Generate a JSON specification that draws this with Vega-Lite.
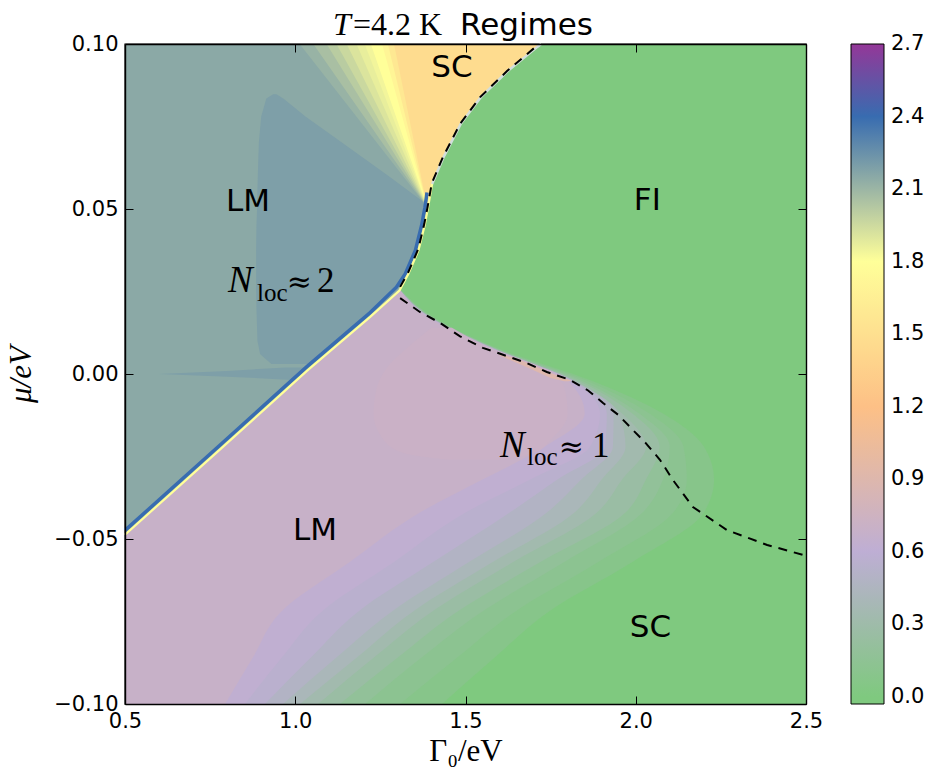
{
  "$schema": "https://vega.github.io/schema/vega-lite/v6.json",
  "autosize": {"type": "none"},
  "padding": {"left": 125, "top": 44, "right": 119, "bottom": 67},
  "width": 681,
  "height": 660,
  "config": {
    "font": "DejaVu Sans",
    "view": {"stroke": "black", "strokeWidth": 1.4},
    "axis": {
      "grid": false, "domain": true, "domainColor": "black", "domainWidth": 1.4,
      "tickColor": "black", "tickSize": -8, "tickWidth": 1, "zindex": 1,
      "labelFont": "DejaVu Sans", "labelFontSize": 21, "labelColor": "black",
      "labelFlush": false, "labelOverlap": false,
      "titleColor": "black", "titleFontWeight": "normal"
    }
  },
  "datasets": {
    "lower": [
      {"k":"a00","v":0,"m":-0.1,"xl":0.5,"xr":2.5},{"k":"a00","v":0,"m":0.1,"xl":0.5,"xr":2.5},
      {"k":"a01","v":0.08,"m":-0.1,"xl":0.5,"xr":1.431},{"k":"a01","v":0.08,"m":-0.086,"xl":0.5,"xr":1.585},{"k":"a01","v":0.08,"m":-0.0724,"xl":0.5,"xr":1.739},{"k":"a01","v":0.08,"m":-0.057,"xl":0.5,"xr":1.99},{"k":"a01","v":0.08,"m":-0.042,"xl":0.5,"xr":2.2},{"k":"a01","v":0.08,"m":-0.032,"xl":0.5,"xr":2.23},{"k":"a01","v":0.08,"m":-0.022,"xl":0.5,"xr":2.2},{"k":"a01","v":0.08,"m":-0.012,"xl":0.5,"xr":2.08},{"k":"a01","v":0.08,"m":-0.002,"xl":0.5,"xr":1.87},{"k":"a01","v":0.08,"m":0.008,"xl":0.5,"xr":1.59},{"k":"a01","v":0.08,"m":0.018,"xl":0.5,"xr":1.395},{"k":"a01","v":0.08,"m":0.0255,"xl":0.5,"xr":1.31},
      {"k":"a02","v":0.125,"m":-0.1,"xl":0.5,"xr":1.308},{"k":"a02","v":0.125,"m":-0.086,"xl":0.5,"xr":1.475},{"k":"a02","v":0.125,"m":-0.0724,"xl":0.5,"xr":1.64},{"k":"a02","v":0.125,"m":-0.057,"xl":0.5,"xr":1.89},{"k":"a02","v":0.125,"m":-0.042,"xl":0.5,"xr":2.11},{"k":"a02","v":0.125,"m":-0.032,"xl":0.5,"xr":2.15},{"k":"a02","v":0.125,"m":-0.022,"xl":0.5,"xr":2.14},{"k":"a02","v":0.125,"m":-0.012,"xl":0.5,"xr":2.04},{"k":"a02","v":0.125,"m":-0.002,"xl":0.5,"xr":1.855},{"k":"a02","v":0.125,"m":0.008,"xl":0.5,"xr":1.587},{"k":"a02","v":0.125,"m":0.018,"xl":0.5,"xr":1.392},{"k":"a02","v":0.125,"m":0.0255,"xl":0.5,"xr":1.309},
      {"k":"a03","v":0.185,"m":-0.1,"xl":0.5,"xr":1.205},{"k":"a03","v":0.185,"m":-0.086,"xl":0.5,"xr":1.37},{"k":"a03","v":0.185,"m":-0.0724,"xl":0.5,"xr":1.543},{"k":"a03","v":0.185,"m":-0.057,"xl":0.5,"xr":1.79},{"k":"a03","v":0.185,"m":-0.042,"xl":0.5,"xr":2.02},{"k":"a03","v":0.185,"m":-0.032,"xl":0.5,"xr":2.08},{"k":"a03","v":0.185,"m":-0.022,"xl":0.5,"xr":2.1},{"k":"a03","v":0.185,"m":-0.012,"xl":0.5,"xr":2.01},{"k":"a03","v":0.185,"m":-0.002,"xl":0.5,"xr":1.84},{"k":"a03","v":0.185,"m":0.008,"xl":0.5,"xr":1.583},{"k":"a03","v":0.185,"m":0.018,"xl":0.5,"xr":1.39},{"k":"a03","v":0.185,"m":0.0255,"xl":0.5,"xr":1.308},
      {"k":"a04","v":0.26,"m":-0.1,"xl":0.5,"xr":1.131},{"k":"a04","v":0.26,"m":-0.086,"xl":0.5,"xr":1.3},{"k":"a04","v":0.26,"m":-0.0724,"xl":0.5,"xr":1.47},{"k":"a04","v":0.26,"m":-0.057,"xl":0.5,"xr":1.72},{"k":"a04","v":0.26,"m":-0.042,"xl":0.5,"xr":1.97},{"k":"a04","v":0.26,"m":-0.032,"xl":0.5,"xr":2.03},{"k":"a04","v":0.26,"m":-0.022,"xl":0.5,"xr":2.07},{"k":"a04","v":0.26,"m":-0.012,"xl":0.5,"xr":1.99},{"k":"a04","v":0.26,"m":-0.002,"xl":0.5,"xr":1.83},{"k":"a04","v":0.26,"m":0.008,"xl":0.5,"xr":1.58},{"k":"a04","v":0.26,"m":0.018,"xl":0.5,"xr":1.387},{"k":"a04","v":0.26,"m":0.0255,"xl":0.5,"xr":1.307},
      {"k":"a05","v":0.335,"m":-0.1,"xl":0.5,"xr":1.067},{"k":"a05","v":0.335,"m":-0.086,"xl":0.5,"xr":1.23},{"k":"a05","v":0.335,"m":-0.0724,"xl":0.5,"xr":1.396},{"k":"a05","v":0.335,"m":-0.057,"xl":0.5,"xr":1.64},{"k":"a05","v":0.335,"m":-0.042,"xl":0.5,"xr":1.886},{"k":"a05","v":0.335,"m":-0.032,"xl":0.5,"xr":1.96},{"k":"a05","v":0.335,"m":-0.022,"xl":0.5,"xr":2.03},{"k":"a05","v":0.335,"m":-0.012,"xl":0.5,"xr":1.96},{"k":"a05","v":0.335,"m":-0.002,"xl":0.5,"xr":1.82},{"k":"a05","v":0.335,"m":0.008,"xl":0.5,"xr":1.578},{"k":"a05","v":0.335,"m":0.018,"xl":0.5,"xr":1.385},{"k":"a05","v":0.335,"m":0.0255,"xl":0.5,"xr":1.307},
      {"k":"a06","v":0.41,"m":-0.1,"xl":0.5,"xr":1.014},{"k":"a06","v":0.41,"m":-0.086,"xl":0.5,"xr":1.18},{"k":"a06","v":0.41,"m":-0.0724,"xl":0.5,"xr":1.34},{"k":"a06","v":0.41,"m":-0.057,"xl":0.5,"xr":1.58},{"k":"a06","v":0.41,"m":-0.042,"xl":0.5,"xr":1.82},{"k":"a06","v":0.41,"m":-0.032,"xl":0.5,"xr":1.9},{"k":"a06","v":0.41,"m":-0.022,"xl":0.5,"xr":1.97},{"k":"a06","v":0.41,"m":-0.012,"xl":0.5,"xr":1.95},{"k":"a06","v":0.41,"m":-0.002,"xl":0.5,"xr":1.817},{"k":"a06","v":0.41,"m":0.008,"xl":0.5,"xr":1.576},{"k":"a06","v":0.41,"m":0.018,"xl":0.5,"xr":1.384},{"k":"a06","v":0.41,"m":0.0255,"xl":0.5,"xr":1.306},
      {"k":"a07","v":0.485,"m":-0.1,"xl":0.5,"xr":0.964},{"k":"a07","v":0.485,"m":-0.086,"xl":0.5,"xr":1.12},{"k":"a07","v":0.485,"m":-0.0724,"xl":0.5,"xr":1.278},{"k":"a07","v":0.485,"m":-0.057,"xl":0.5,"xr":1.51},{"k":"a07","v":0.485,"m":-0.042,"xl":0.5,"xr":1.739},{"k":"a07","v":0.485,"m":-0.032,"xl":0.5,"xr":1.84},{"k":"a07","v":0.485,"m":-0.022,"xl":0.5,"xr":1.933},{"k":"a07","v":0.485,"m":-0.012,"xl":0.5,"xr":1.935},{"k":"a07","v":0.485,"m":-0.002,"xl":0.5,"xr":1.815},{"k":"a07","v":0.485,"m":0.008,"xl":0.5,"xr":1.575},{"k":"a07","v":0.485,"m":0.018,"xl":0.5,"xr":1.383},{"k":"a07","v":0.485,"m":0.0255,"xl":0.5,"xr":1.306},
      {"k":"a08","v":0.56,"m":-0.1,"xl":0.5,"xr":0.911},{"k":"a08","v":0.56,"m":-0.086,"xl":0.5,"xr":1.045},{"k":"a08","v":0.56,"m":-0.0724,"xl":0.5,"xr":1.18},{"k":"a08","v":0.56,"m":-0.057,"xl":0.5,"xr":1.405},{"k":"a08","v":0.56,"m":-0.042,"xl":0.5,"xr":1.63},{"k":"a08","v":0.56,"m":-0.032,"xl":0.5,"xr":1.77},{"k":"a08","v":0.56,"m":-0.022,"xl":0.5,"xr":1.91},{"k":"a08","v":0.56,"m":-0.012,"xl":0.5,"xr":1.915},{"k":"a08","v":0.56,"m":-0.002,"xl":0.5,"xr":1.812},{"k":"a08","v":0.56,"m":0.008,"xl":0.5,"xr":1.573},{"k":"a08","v":0.56,"m":0.018,"xl":0.5,"xr":1.382},{"k":"a08","v":0.56,"m":0.0255,"xl":0.5,"xr":1.306},
      {"k":"a09","v":0.62,"m":-0.1,"xl":0.5,"xr":0.852},{"k":"a09","v":0.62,"m":-0.086,"xl":0.5,"xr":0.96},{"k":"a09","v":0.62,"m":-0.0724,"xl":0.5,"xr":1.073},{"k":"a09","v":0.62,"m":-0.057,"xl":0.5,"xr":1.29},{"k":"a09","v":0.62,"m":-0.042,"xl":0.5,"xr":1.5},{"k":"a09","v":0.62,"m":-0.032,"xl":0.5,"xr":1.69},{"k":"a09","v":0.62,"m":-0.022,"xl":0.5,"xr":1.866},{"k":"a09","v":0.62,"m":-0.012,"xl":0.5,"xr":1.895},{"k":"a09","v":0.62,"m":-0.002,"xl":0.5,"xr":1.81},{"k":"a09","v":0.62,"m":0.008,"xl":0.5,"xr":1.572},{"k":"a09","v":0.62,"m":0.018,"xl":0.5,"xr":1.381},{"k":"a09","v":0.62,"m":0.0255,"xl":0.5,"xr":1.306},
      {"k":"a10","v":0.69,"m":-0.1,"xl":0.5,"xr":0.794},{"k":"a10","v":0.69,"m":-0.086,"xl":0.5,"xr":0.875},{"k":"a10","v":0.69,"m":-0.0724,"xl":0.5,"xr":0.955},{"k":"a10","v":0.69,"m":-0.057,"xl":0.5,"xr":1.16},{"k":"a10","v":0.69,"m":-0.042,"xl":0.5,"xr":1.366},{"k":"a10","v":0.69,"m":-0.032,"xl":0.5,"xr":1.55},{"k":"a10","v":0.69,"m":-0.022,"xl":0.5,"xr":1.733},{"k":"a10","v":0.69,"m":-0.012,"xl":0.5,"xr":1.85},{"k":"a10","v":0.69,"m":-0.002,"xl":0.5,"xr":1.8},{"k":"a10","v":0.69,"m":0.008,"xl":0.5,"xr":1.568},{"k":"a10","v":0.69,"m":0.018,"xl":0.5,"xr":1.378},{"k":"a10","v":0.69,"m":0.0255,"xl":0.5,"xr":1.306},
      {"k":"a11","v":0.71,"m":-0.026,"xl":1.45,"xr":1.6},{"k":"a11","v":0.71,"m":-0.024,"xl":1.32,"xr":1.7},{"k":"a11","v":0.71,"m":-0.02,"xl":1.26,"xr":1.75},{"k":"a11","v":0.71,"m":-0.012,"xl":1.23,"xr":1.8},{"k":"a11","v":0.71,"m":-0.004,"xl":1.24,"xr":1.79},{"k":"a11","v":0.71,"m":0.002,"xl":1.27,"xr":1.72},{"k":"a11","v":0.71,"m":0.008,"xl":1.33,"xr":1.57},{"k":"a11","v":0.71,"m":0.014,"xl":1.4,"xr":1.46}
    ],
    "streak": [
      {"v":0.9,"g":1.6,"lo":0.0056,"hi":0.0061},{"v":0.9,"g":1.65,"lo":0.0034,"hi":0.0046},{"v":0.9,"g":1.7,"lo":0.0011,"hi":0.0026},{"v":0.9,"g":1.75,"lo":-0.0012,"hi":0.0003},{"v":0.9,"g":1.79,"lo":-0.0022,"hi":-0.0012},{"v":0.9,"g":1.81,"lo":-0.0022,"hi":-0.002}
    ],
    "upper": [
      {"k":"f00","v":2.15,"g":0.5,"lo":-0.0485},{"k":"f00","v":2.15,"g":0.785,"lo":-0.0221},{"k":"f00","v":2.15,"g":1.035,"lo":0.0012},{"k":"f00","v":2.15,"g":1.22,"lo":0.0175},{"k":"f00","v":2.15,"g":1.305,"lo":0.0255},{"k":"f00","v":2.15,"g":1.33,"lo":0.0303},{"k":"f00","v":2.15,"g":1.36,"lo":0.0375},{"k":"f00","v":2.15,"g":1.378,"lo":0.045},{"k":"f00","v":2.15,"g":1.388,"lo":0.0505},{"k":"f00","v":2.15,"g":1.4,"lo":0.0576},{"k":"f00","v":2.15,"g":1.434,"lo":0.0658},{"k":"f00","v":2.15,"g":1.484,"lo":0.0758},{"k":"f00","v":2.15,"g":1.543,"lo":0.0839},{"k":"f00","v":2.15,"g":1.622,"lo":0.0918},{"k":"f00","v":2.15,"g":1.71,"lo":0.0992},{"k":"f00","v":2.15,"g":1.72,"lo":0.1},
      {"k":"f01","v":2.11,"g":1.013,"lo":0.1},{"k":"f01","v":2.11,"g":1.388,"lo":0.0505},{"k":"f01","v":2.11,"g":1.4,"lo":0.0576},{"k":"f01","v":2.11,"g":1.434,"lo":0.0658},{"k":"f01","v":2.11,"g":1.484,"lo":0.0758},{"k":"f01","v":2.11,"g":1.543,"lo":0.0839},{"k":"f01","v":2.11,"g":1.622,"lo":0.0918},{"k":"f01","v":2.11,"g":1.71,"lo":0.0992},{"k":"f01","v":2.11,"g":1.72,"lo":0.1},
      {"k":"f02","v":2.06,"g":1.053,"lo":0.1},{"k":"f02","v":2.06,"g":1.388,"lo":0.0505},{"k":"f02","v":2.06,"g":1.4,"lo":0.0576},{"k":"f02","v":2.06,"g":1.434,"lo":0.0658},{"k":"f02","v":2.06,"g":1.484,"lo":0.0758},{"k":"f02","v":2.06,"g":1.543,"lo":0.0839},{"k":"f02","v":2.06,"g":1.622,"lo":0.0918},{"k":"f02","v":2.06,"g":1.71,"lo":0.0992},{"k":"f02","v":2.06,"g":1.72,"lo":0.1},
      {"k":"f03","v":2.01,"g":1.092,"lo":0.1},{"k":"f03","v":2.01,"g":1.388,"lo":0.0505},{"k":"f03","v":2.01,"g":1.4,"lo":0.0576},{"k":"f03","v":2.01,"g":1.434,"lo":0.0658},{"k":"f03","v":2.01,"g":1.484,"lo":0.0758},{"k":"f03","v":2.01,"g":1.543,"lo":0.0839},{"k":"f03","v":2.01,"g":1.622,"lo":0.0918},{"k":"f03","v":2.01,"g":1.71,"lo":0.0992},{"k":"f03","v":2.01,"g":1.72,"lo":0.1},
      {"k":"f04","v":1.96,"g":1.121,"lo":0.1},{"k":"f04","v":1.96,"g":1.388,"lo":0.0505},{"k":"f04","v":1.96,"g":1.4,"lo":0.0576},{"k":"f04","v":1.96,"g":1.434,"lo":0.0658},{"k":"f04","v":1.96,"g":1.484,"lo":0.0758},{"k":"f04","v":1.96,"g":1.543,"lo":0.0839},{"k":"f04","v":1.96,"g":1.622,"lo":0.0918},{"k":"f04","v":1.96,"g":1.71,"lo":0.0992},{"k":"f04","v":1.96,"g":1.72,"lo":0.1},
      {"k":"f05","v":1.91,"g":1.151,"lo":0.1},{"k":"f05","v":1.91,"g":1.388,"lo":0.0505},{"k":"f05","v":1.91,"g":1.4,"lo":0.0576},{"k":"f05","v":1.91,"g":1.434,"lo":0.0658},{"k":"f05","v":1.91,"g":1.484,"lo":0.0758},{"k":"f05","v":1.91,"g":1.543,"lo":0.0839},{"k":"f05","v":1.91,"g":1.622,"lo":0.0918},{"k":"f05","v":1.91,"g":1.71,"lo":0.0992},{"k":"f05","v":1.91,"g":1.72,"lo":0.1},
      {"k":"f06","v":1.87,"g":1.18,"lo":0.1},{"k":"f06","v":1.87,"g":1.388,"lo":0.0505},{"k":"f06","v":1.87,"g":1.4,"lo":0.0576},{"k":"f06","v":1.87,"g":1.434,"lo":0.0658},{"k":"f06","v":1.87,"g":1.484,"lo":0.0758},{"k":"f06","v":1.87,"g":1.543,"lo":0.0839},{"k":"f06","v":1.87,"g":1.622,"lo":0.0918},{"k":"f06","v":1.87,"g":1.71,"lo":0.0992},{"k":"f06","v":1.87,"g":1.72,"lo":0.1},
      {"k":"f07","v":1.84,"g":1.204,"lo":0.1},{"k":"f07","v":1.84,"g":1.388,"lo":0.0505},{"k":"f07","v":1.84,"g":1.4,"lo":0.0576},{"k":"f07","v":1.84,"g":1.434,"lo":0.0658},{"k":"f07","v":1.84,"g":1.484,"lo":0.0758},{"k":"f07","v":1.84,"g":1.543,"lo":0.0839},{"k":"f07","v":1.84,"g":1.622,"lo":0.0918},{"k":"f07","v":1.84,"g":1.71,"lo":0.0992},{"k":"f07","v":1.84,"g":1.72,"lo":0.1},
      {"k":"f08","v":1.8,"g":1.222,"lo":0.1},{"k":"f08","v":1.8,"g":1.388,"lo":0.0505},{"k":"f08","v":1.8,"g":1.4,"lo":0.0576},{"k":"f08","v":1.8,"g":1.434,"lo":0.0658},{"k":"f08","v":1.8,"g":1.484,"lo":0.0758},{"k":"f08","v":1.8,"g":1.543,"lo":0.0839},{"k":"f08","v":1.8,"g":1.622,"lo":0.0918},{"k":"f08","v":1.8,"g":1.71,"lo":0.0992},{"k":"f08","v":1.8,"g":1.72,"lo":0.1},
      {"k":"f09","v":1.7,"g":1.255,"lo":0.1},{"k":"f09","v":1.7,"g":1.388,"lo":0.0505},{"k":"f09","v":1.7,"g":1.4,"lo":0.0576},{"k":"f09","v":1.7,"g":1.434,"lo":0.0658},{"k":"f09","v":1.7,"g":1.484,"lo":0.0758},{"k":"f09","v":1.7,"g":1.543,"lo":0.0839},{"k":"f09","v":1.7,"g":1.622,"lo":0.0918},{"k":"f09","v":1.7,"g":1.71,"lo":0.0992},{"k":"f09","v":1.7,"g":1.72,"lo":0.1},
      {"k":"f10","v":1.58,"g":1.272,"lo":0.1},{"k":"f10","v":1.58,"g":1.388,"lo":0.0505},{"k":"f10","v":1.58,"g":1.4,"lo":0.0576},{"k":"f10","v":1.58,"g":1.434,"lo":0.0658},{"k":"f10","v":1.58,"g":1.484,"lo":0.0758},{"k":"f10","v":1.58,"g":1.543,"lo":0.0839},{"k":"f10","v":1.58,"g":1.622,"lo":0.0918},{"k":"f10","v":1.58,"g":1.71,"lo":0.0992},{"k":"f10","v":1.58,"g":1.72,"lo":0.1},
      {"k":"f11","v":1.47,"g":1.29,"lo":0.1},{"k":"f11","v":1.47,"g":1.388,"lo":0.0505},{"k":"f11","v":1.47,"g":1.4,"lo":0.0576},{"k":"f11","v":1.47,"g":1.434,"lo":0.0658},{"k":"f11","v":1.47,"g":1.484,"lo":0.0758},{"k":"f11","v":1.47,"g":1.543,"lo":0.0839},{"k":"f11","v":1.47,"g":1.622,"lo":0.0918},{"k":"f11","v":1.47,"g":1.71,"lo":0.0992},{"k":"f11","v":1.47,"g":1.72,"lo":0.1}
    ],
    "patch": [
      {"k":"p1","v":2.19,"m":0.003,"xl":0.93,"xr":1.05},{"k":"p1","v":2.19,"m":0.006,"xl":0.897,"xr":1.088},{"k":"p1","v":2.19,"m":0.01,"xl":0.889,"xr":1.13},{"k":"p1","v":2.19,"m":0.02,"xl":0.886,"xr":1.24},{"k":"p1","v":2.19,"m":0.0255,"xl":0.885,"xr":1.3},{"k":"p1","v":2.19,"m":0.03,"xl":0.885,"xr":1.325},{"k":"p1","v":2.19,"m":0.0375,"xl":0.885,"xr":1.355},{"k":"p1","v":2.19,"m":0.045,"xl":0.886,"xr":1.373},{"k":"p1","v":2.19,"m":0.0505,"xl":0.888,"xr":1.382},{"k":"p1","v":2.19,"m":0.0525,"xl":0.888,"xr":1.372},{"k":"p1","v":2.19,"m":0.06,"xl":0.89,"xr":1.274},{"k":"p1","v":2.19,"m":0.07,"xl":0.893,"xr":1.139},{"k":"p1","v":2.19,"m":0.078,"xl":0.9,"xr":1.03},{"k":"p1","v":2.19,"m":0.0835,"xl":0.915,"xr":0.965},{"k":"p1","v":2.19,"m":0.0848,"xl":0.935,"xr":0.945},
      {"k":"p2","v":2.19,"m":-0.0018,"xl":0.99,"xr":1.0},{"k":"p2","v":2.19,"m":-0.0008,"xl":0.8,"xr":1.01},{"k":"p2","v":2.19,"m":0.0,"xl":0.6,"xr":1.02},{"k":"p2","v":2.19,"m":0.0009,"xl":0.8,"xr":1.03},{"k":"p2","v":2.19,"m":0.002,"xl":0.97,"xr":1.044}
    ],
    "edge_blue": [
      {"g":0.5,"m":-0.0474},{"g":0.785,"m":-0.021},{"g":1.035,"m":0.0023},{"g":1.22,"m":0.0186},{"g":1.297,"m":0.0263},{"g":1.323,"m":0.0303},{"g":1.353,"m":0.0375},{"g":1.371,"m":0.045},{"g":1.381,"m":0.0505},{"g":1.387,"m":0.055}
    ],
    "edge_yellow": [
      {"g":0.5,"m":-0.0487},{"g":0.785,"m":-0.0223},{"g":1.035,"m":0.001},{"g":1.22,"m":0.0173},{"g":1.306,"m":0.0253},{"g":1.332,"m":0.0303},{"g":1.362,"m":0.0375},{"g":1.38,"m":0.045},{"g":1.39,"m":0.0505},{"g":1.402,"m":0.0576}
    ],
    "edge_pale": [
      {"g":1.402,"m":0.0576},{"g":1.436,"m":0.0658},{"g":1.486,"m":0.0758},{"g":1.545,"m":0.0839},{"g":1.624,"m":0.0918},{"g":1.712,"m":0.0992},{"g":1.722,"m":0.1}
    ],
    "dashes": [
      {"k":"d1","g":1.308,"m":0.0264},{"k":"d1","g":1.331,"m":0.0306},{"k":"d1","g":1.361,"m":0.0378},{"k":"d1","g":1.379,"m":0.0455},{"k":"d1","g":1.389,"m":0.0508},{"k":"d1","g":1.401,"m":0.0578},{"k":"d1","g":1.434,"m":0.0658},{"k":"d1","g":1.484,"m":0.0758},{"k":"d1","g":1.543,"m":0.0839},{"k":"d1","g":1.622,"m":0.0918},{"k":"d1","g":1.71,"m":0.0995},
      {"k":"d2","g":1.308,"m":0.023},{"k":"d2","g":1.366,"m":0.0188},{"k":"d2","g":1.425,"m":0.0155},{"k":"d2","g":1.484,"m":0.0114},{"k":"d2","g":1.551,"m":0.0079},{"k":"d2","g":1.6,"m":0.0062},{"k":"d2","g":1.68,"m":0.0033},{"k":"d2","g":1.739,"m":0.0006},{"k":"d2","g":1.807,"m":-0.0018},{"k":"d2","g":1.86,"m":-0.005},{"k":"d2","g":1.904,"m":-0.0088},{"k":"d2","g":1.95,"m":-0.0125},{"k":"d2","g":1.992,"m":-0.017},{"k":"d2","g":2.03,"m":-0.021},{"k":"d2","g":2.071,"m":-0.026},{"k":"d2","g":2.09,"m":-0.029},{"k":"d2","g":2.109,"m":-0.0321},{"k":"d2","g":2.168,"m":-0.0403},{"k":"d2","g":2.268,"m":-0.0473},{"k":"d2","g":2.386,"m":-0.0518},{"k":"d2","g":2.49,"m":-0.0548},{"k":"d2","g":2.5,"m":-0.0551}
    ],
    "names": [
      {"t":"SC","g":1.46,"m":0.09},{"t":"LM","g":0.861,"m":0.0494},{"t":"FI","g":2.034,"m":0.0497},{"t":"LM","g":1.058,"m":-0.0503},{"t":"SC","g":2.043,"m":-0.0797}
    ],
    "nloc_symbol": [{"t":"N","g":0.8025,"m":0.0248},{"t":"N","g":1.601,"m":-0.0252}],
    "nloc_sub": [{"t":"loc","g":0.8877,"m":0.0221},{"t":"loc","g":1.6806,"m":-0.0276}],
    "nloc_approx": [{"t":"≈","g":0.975,"m":0.0248},{"t":"≈","g":1.774,"m":-0.0252}],
    "nloc_num": [{"t":"2","g":1.0639,"m":0.0248},{"t":"1","g":1.8715,"m":-0.0252}],
    "title_it": [{"t":"T","g":1.1109,"m":0.10273}],
    "title_rm": [{"t":"=4.2 K","g":1.1696,"m":0.10273}],
    "title_word": [{"t":"Regimes","g":1.4838,"m":0.10273}]
  },
  "layer": [
    {
      "data": {"name": "lower"},
      "mark": {"type": "area", "orient": "horizontal", "interpolate": "monotone"},
      "encoding": {
        "y": {"field": "m", "type": "quantitative",
              "scale": {"domain": [-0.1, 0.1], "nice": false, "zero": false},
              "axis": {"values": [-0.1, -0.05, 0, 0.05, 0.1], "format": ".2f", "title": "μ/eV",
                       "titleFont": "Liberation Serif", "titleFontStyle": "italic", "titleFontSize": 31,
                       "labelPadding": 15, "titlePadding": 16, "zindex": 2}},
        "x": {"field": "xl", "type": "quantitative",
              "scale": {"domain": [0.5, 2.5], "nice": false, "zero": false},
              "axis": {"values": [0.5, 1, 1.5, 2, 2.5], "format": ".1f", "title": "Γ₀/eV",
                       "titleFont": "Liberation Serif", "titleFontSize": 31,
                       "labelPadding": 14, "titlePadding": 5, "zindex": 2}},
        "x2": {"field": "xr"},
        "detail": {"field": "k"},
        "color": {"field": "v", "type": "quantitative",
                  "scale": {"domain": [-0.03, 0, 0.6, 1.2, 1.8, 2.4, 2.7],
                            "range": ["#7fc97f", "#7fc97f", "#beaed4", "#fdc086", "#ffff99", "#386cb0", "#943798"],
                            "interpolate": "rgb"},
                  "legend": {"title": null, "type": "gradient", "direction": "vertical", "orient": "right",
                             "offset": 41, "padding": 0, "gradientLength": 660, "gradientThickness": 33,
                             "gradientStrokeColor": "black", "gradientStrokeWidth": 1,
                             "values": [0, 0.3, 0.6, 0.9, 1.2, 1.5, 1.8, 2.1, 2.4, 2.7], "format": ".1f",
                             "labelFont": "DejaVu Sans", "labelFontSize": 21, "labelColor": "black",
                             "labelOffset": 7, "labelOverlap": false,
                             "encode": {"labels": {"update": {"baseline": {"value": "middle"}}}}}}
      }
    },
    {
      "data": {"name": "streak"},
      "mark": {"type": "area", "orient": "vertical"},
      "encoding": {
        "x": {"field": "g", "type": "quantitative", "axis": null},
        "y": {"field": "lo", "type": "quantitative", "axis": null},
        "y2": {"field": "hi"},
        "color": {"field": "v", "type": "quantitative", "legend": null}
      }
    },
    {
      "data": {"name": "upper"},
      "mark": {"type": "area", "orient": "vertical"},
      "encoding": {
        "x": {"field": "g", "type": "quantitative", "axis": null},
        "y": {"field": "lo", "type": "quantitative", "axis": null},
        "y2": {"datum": 0.1},
        "detail": {"field": "k"},
        "color": {"field": "v", "type": "quantitative", "legend": null}
      }
    },
    {
      "data": {"name": "patch"},
      "mark": {"type": "area", "orient": "horizontal"},
      "encoding": {
        "y": {"field": "m", "type": "quantitative", "axis": null},
        "x": {"field": "xl", "type": "quantitative", "axis": null},
        "x2": {"field": "xr"},
        "detail": {"field": "k"},
        "color": {"field": "v", "type": "quantitative", "legend": null}
      }
    },
    {
      "data": {"name": "edge_blue"},
      "mark": {"type": "line", "strokeWidth": 3.5, "color": "#386cb0"},
      "encoding": {
        "x": {"field": "g", "type": "quantitative", "axis": null},
        "y": {"field": "m", "type": "quantitative", "axis": null}
      }
    },
    {
      "data": {"name": "edge_yellow"},
      "mark": {"type": "line", "strokeWidth": 2.2, "color": "#ffff99"},
      "encoding": {
        "x": {"field": "g", "type": "quantitative", "axis": null},
        "y": {"field": "m", "type": "quantitative", "axis": null}
      }
    },
    {
      "data": {"name": "edge_pale"},
      "mark": {"type": "line", "strokeWidth": 2.5, "color": "#d3dedb"},
      "encoding": {
        "x": {"field": "g", "type": "quantitative", "axis": null},
        "y": {"field": "m", "type": "quantitative", "axis": null}
      }
    },
    {
      "data": {"name": "names"},
      "mark": {"type": "text", "font": "DejaVu Sans", "fontSize": 31, "align": "center", "baseline": "alphabetic", "color": "black"},
      "encoding": {
        "x": {"field": "g", "type": "quantitative", "axis": null},
        "y": {"field": "m", "type": "quantitative", "axis": null},
        "text": {"field": "t"}
      }
    },
    {
      "data": {"name": "nloc_symbol"},
      "mark": {"type": "text", "font": "Liberation Serif", "fontStyle": "italic", "fontSize": 37, "align": "left", "baseline": "alphabetic", "color": "black"},
      "encoding": {
        "x": {"field": "g", "type": "quantitative", "axis": null},
        "y": {"field": "m", "type": "quantitative", "axis": null},
        "text": {"field": "t"}
      }
    },
    {
      "data": {"name": "nloc_sub"},
      "mark": {"type": "text", "font": "Liberation Serif", "fontSize": 25, "align": "left", "baseline": "alphabetic", "color": "black"},
      "encoding": {
        "x": {"field": "g", "type": "quantitative", "axis": null},
        "y": {"field": "m", "type": "quantitative", "axis": null},
        "text": {"field": "t"}
      }
    },
    {
      "data": {"name": "nloc_approx"},
      "mark": {"type": "text", "font": "DejaVu Serif", "fontSize": 30, "align": "left", "baseline": "alphabetic", "color": "black"},
      "encoding": {
        "x": {"field": "g", "type": "quantitative", "axis": null},
        "y": {"field": "m", "type": "quantitative", "axis": null},
        "text": {"field": "t"}
      }
    },
    {
      "data": {"name": "nloc_num"},
      "mark": {"type": "text", "font": "Liberation Serif", "fontSize": 35, "align": "left", "baseline": "alphabetic", "color": "black"},
      "encoding": {
        "x": {"field": "g", "type": "quantitative", "axis": null},
        "y": {"field": "m", "type": "quantitative", "axis": null},
        "text": {"field": "t"}
      }
    },
    {
      "data": {"name": "title_it"},
      "mark": {"type": "text", "font": "Liberation Serif", "fontStyle": "italic", "fontSize": 32, "align": "left", "baseline": "alphabetic", "color": "black"},
      "encoding": {
        "x": {"field": "g", "type": "quantitative", "axis": null},
        "y": {"field": "m", "type": "quantitative", "axis": null},
        "text": {"field": "t"}
      }
    },
    {
      "data": {"name": "title_rm"},
      "mark": {"type": "text", "font": "Liberation Serif", "fontSize": 32, "align": "left", "baseline": "alphabetic", "color": "black"},
      "encoding": {
        "x": {"field": "g", "type": "quantitative", "axis": null},
        "y": {"field": "m", "type": "quantitative", "axis": null},
        "text": {"field": "t"}
      }
    },
    {
      "data": {"name": "title_word"},
      "mark": {"type": "text", "font": "DejaVu Sans", "fontSize": 31, "align": "left", "baseline": "alphabetic", "color": "black"},
      "encoding": {
        "x": {"field": "g", "type": "quantitative", "axis": null},
        "y": {"field": "m", "type": "quantitative", "axis": null},
        "text": {"field": "t"}
      }
    },
    {
      "data": {"name": "dashes"},
      "mark": {"type": "line", "color": "black", "strokeWidth": 2, "strokeDash": [9, 7]},
      "encoding": {
        "x": {"field": "g", "type": "quantitative",
              "axis": {"orient": "top", "labels": false, "title": null, "values": [0.5, 1, 1.5, 2, 2.5], "zindex": 2}},
        "y": {"field": "m", "type": "quantitative",
              "axis": {"orient": "right", "labels": false, "title": null, "values": [-0.1, -0.05, 0, 0.05, 0.1], "zindex": 2}},
        "detail": {"field": "k"}
      }
    }
  ],
  "resolve": {"axis": {"x": "independent", "y": "independent"}}
}
